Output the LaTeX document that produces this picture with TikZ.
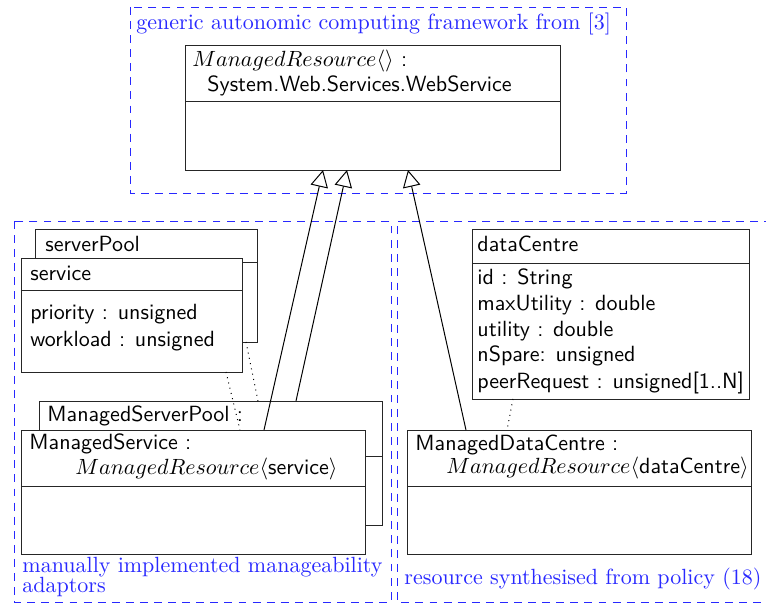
\documentclass[tikz,border=0pt]{standalone}
\usetikzlibrary{fit,arrows.meta}
\definecolor{lblue}{RGB}{40,40,255}
\begin{document}
\begin{tikzpicture}[x=0.4545pt,y=-0.4545pt,
  box/.style={draw=black!85,line width=0.45pt,fill=white,inner sep=0pt,outer sep=0pt},
  divline/.style={draw=black!85,line width=0.45pt},
  group/.style={draw=lblue,dash pattern=on 3.6pt off 2.8pt,line width=0.45pt},
  grouplabel/.style={text=lblue,anchor=base west,inner sep=0pt,font=\rmfamily},
  txt/.style={anchor=base west,inner sep=0pt,font=\sffamily},
  inh/.style={line width=0.45pt,-{Triangle[open,length=7.7pt,width=8pt]}},
  dep/.style={line width=0.45pt,dotted}]
\useasboundingbox (0,0) rectangle (766,604);

% ---------- top group ----------
\draw[group] (130,7) rectangle (626,193);
\node[grouplabel] (lgen) at (136,30) {generic autonomic computing framework from [3]};
\node[box,fit={(185.7,45.6)(560.7,170)}] (mr) {};
\draw[divline] (185.7,101.7) -- (560.7,101.7);
\node[txt] (mr1) at (192,67) {$ManagedResource\langle\rangle$ :};
\node[txt] (mr2) at (207,92) {System.Web.Services.WebService};

% ---------- left group ----------
\draw[group] (14,221) rectangle (391,602);
\node[box,fit={(35,229)(257,342)}] (sp) {};
\draw[divline] (35,262) -- (257,262);
\node[txt] (spt) at (45,252) {serverPool};
\node[box,fit={(21,258)(242,372)}] (sv) {};
\draw[divline] (21,290) -- (242,290);
\node[txt] (svt) at (30,281) {service};
\node[txt] (sva) at (30,320) {priority : unsigned};
\node[txt] (svb) at (30,347) {workload : unsigned};

\node[box,fit={(39,401)(382,525)}] (msp) {};
\draw[divline] (39,456) -- (382,456);
\node[txt] (mspt) at (47,422) {ManagedServerPool :};

\coordinate (d1s) at (226,372);
\coordinate (d1e) at (240,430);
\coordinate (d2s) at (246,342);
\coordinate (d2e) at (258,401);
\draw[dep] (d1s) -- (d1e);
\draw[dep] (d2s) -- (d2e);

\node[box,fit={(21,430)(365,554)}] (ms) {};
\draw[divline] (21,486) -- (365,486);
\node[txt] (mst1) at (29,450) {ManagedService :};
\node[txt] (mst2) at (75,475) {$ManagedResource\langle\textsf{service}\rangle$};
\node[grouplabel] (lman1) at (22,573) {manually implemented manageability};
\node[grouplabel] (lman2) at (22,593) {adaptors};

% ---------- right group ----------
\draw[group] (772,221) -- (397,221) -- (397,602) -- (772,602);
\node[box,fit={(472,229)(749,399)}] (dc) {};
\draw[divline] (472,263) -- (749,263);
\node[txt] (dct) at (477,252) {dataCentre};
\node[txt] (dca) at (477,285) {id : String};
\node[txt] (dcb) at (477,311) {maxUtility : double};
\node[txt] (dcc) at (477,337) {utility : double};
\node[txt] (dcd) at (477,362) {nSpare: unsigned};
\node[txt] (dce) at (477,389) {peerRequest : unsigned[1..N]};

\node[box,fit={(407,430)(751,554)}] (mdc) {};
\draw[divline] (407,486) -- (751,486);
\node[txt] (mdct1) at (415,451) {ManagedDataCentre :};
\node[txt] (mdct2) at (446,474) {$ManagedResource\langle\textsf{dataCentre}\rangle$};
\node[grouplabel] (lres) at (404,585) {resource synthesised from policy (18)};

\coordinate (d3s) at (513,399);
\coordinate (d3e) at (507,430);
\draw[dep] (d3s) -- (d3e);

% ---------- inheritance ----------
\coordinate (i1s) at (264,430);
\coordinate (i1e) at (323,170);
\coordinate (i2s) at (296,401);
\coordinate (i2e) at (347,170);
\coordinate (i3s) at (466,430);
\coordinate (i3e) at (408,170);
\draw[inh] (i1s) -- (i1e);
\draw[inh] (i2s) -- (i2e);
\draw[inh] (i3s) -- (i3e);
\end{tikzpicture}
\end{document}
